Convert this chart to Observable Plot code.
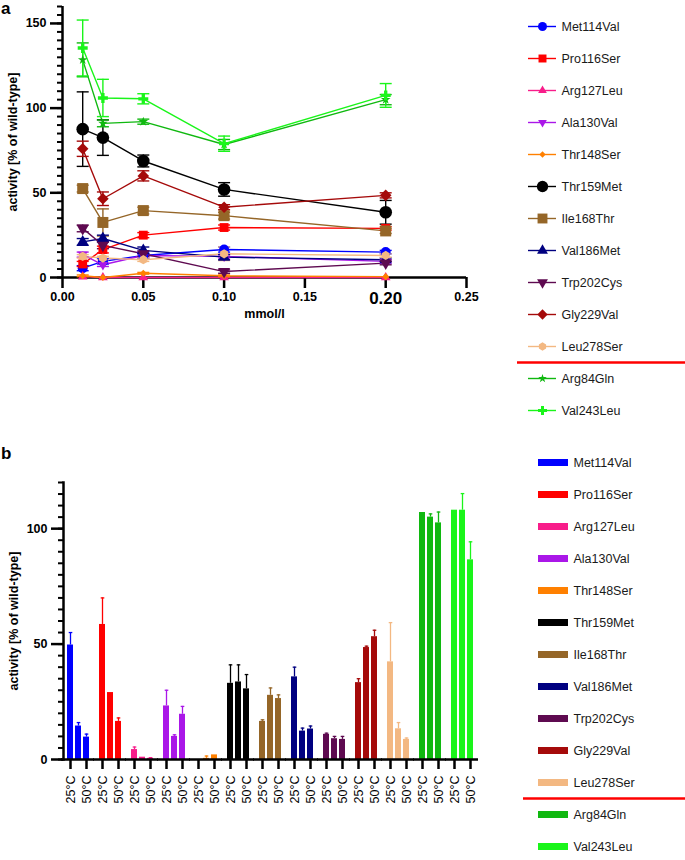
<!DOCTYPE html>
<html><head><meta charset="utf-8">
<script src="https://cdn.jsdelivr.net/npm/d3@7"></script>
<script src="https://cdn.jsdelivr.net/npm/@observablehq/plot@0.6"></script>
<style>
body{margin:0;background:#fff;font-family:"Liberation Sans",Arial,sans-serif;}
#root{position:relative;width:685px;height:860px;overflow:hidden;background:#fff;}
.abs{position:absolute;}
.letter{font-weight:bold;font-size:17px;line-height:17px;color:#000;}
</style></head><body><div id="root"></div>
<script>
const mutants = ["Met114Val","Pro116Ser","Arg127Leu","Ala130Val","Thr148Ser","Thr159Met","Ile168Thr","Val186Met","Trp202Cys","Gly229Val","Leu278Ser","Arg84Gln","Val243Leu"];
const colors = ["#0000ff","#ff0000","#f81d8a","#aa17e8","#ff8000","#000000","#956628","#000080","#5e0a50","#a50a0a","#f3b882","#10b810","#1af51a"];
const symbolsA = ["circle","square","triangle","triangle","diamond2","circle","square","triangle","triangle","diamond2","hexagon","star","cross"];
const rotationsA = [0,0,0,180,0,0,0,0,180,0,0,0,0];
const sizesA = [5,5,3.6,3.6,3.2,6.3,6.2,4.5,4.5,5.2,4,3,4.2];

const concentrations = [0.0125,0.025,0.05,0.1,0.2];
const activityA = [
  [5.5, 9.5, 13, 16.5, 15],
  [8, 16.5, 25, 29.5, 29],
  [0.5, 0, 0, 0, 0],
  [13.5, 7.5, 13, 12.5, 9.5],
  [1, 0, 2.5, 1, 0.5],
  [87.6, 82.6, 68.8, 52, 38.5],
  [52.5, 32.5, 39.5, 36.5, 27.5],
  [21, 23, 16, 12, 10.5],
  [29, 19, 14, 3.5, 8.5],
  [76, 46.5, 60, 41.5, 48.5],
  [12.5, 11.5, 10.5, 14, 13],
  [128.5, 91, 92, 78.5, 105],
  [135.5, 106, 105.5, 79, 107.5]
];
const errorA = [
  [1.5, 1.5, 1.5, 1.5, 1],
  [1.5, 2, 1.5, 1.5, 1],
  [0, 0, 0, 0, 0],
  [1.5, 1, 1, 1, 1],
  [0.5, 0, 0.5, 0.5, 0],
  [22, 10.5, 3.5, 4, 7],
  [2, 8, 2, 2, 1.5],
  [2, 2, 2, 1.5, 1],
  [2, 2, 1.5, 1, 1],
  [4.5, 4, 3, 1.5, 1.5],
  [1, 1, 1, 4, 1],
  [10, 2, 1.5, 3, 3],
  [16.5, 11, 3, 4.5, 7]
];
const xTicksA = [0, 0.05, 0.1, 0.15, 0.25];
const xTickBigA = [0.2];
const yTicksA = [0, 50, 100, 150];

const temperatures = ["25°C","37°C","50°C"];
const temperatureTicks = ["25°C","50°C"];
const activityB = [
  [49.6, 14.5, 9.7],
  [58.5, 29, 16.5],
  [4.3, 1, 0.5],
  [23.2, 10, 19.6],
  [0, 0.5, 2],
  [33, 33.6, 30.6],
  [16.5, 27.8, 26.4],
  [35.8, 12.3, 13.2],
  [10.9, 9, 8.7],
  [33.3, 48.5, 53.2],
  [42.3, 13.3, 8.7],
  [107, 105, 102.5],
  [108, 108, 86.5]
];
const errorB = [
  [5.4, 1.5, 1.3],
  [11.5, 0, 1.5],
  [1.1, 0, 0.3],
  [6.8, 0.7, 3.4],
  [0, 1, 0],
  [8, 7.4, 6.2],
  [0.7, 3.2, 1.6],
  [4.2, 1.3, 1.3],
  [0.5, 1, 1.3],
  [1.7, 0.6, 2.8],
  [17, 2.7, 0.6],
  [0, 1.4, 4.7],
  [0, 7.2, 7.8]
];
const yTicksB = [0, 50, 100];
const yLabel = "activity [% of wild-type]";
const xLabelA = "mmol/l";
const separatorAfter = "Leu278Ser";

const FONT = '"Liberation Sans", Arial, Helvetica, sans-serif';
const root = document.getElementById("root");
function place(el, left, top) {
  const w = document.createElement("div");
  w.className = "abs"; w.style.left = left + "px"; w.style.top = top + "px";
  w.appendChild(el); root.appendChild(w); return w;
}
const capSymbol = {draw(ctx, size) { const w = Math.sqrt(size / Math.PI); ctx.moveTo(-w, 0); ctx.lineTo(w, 0); }};

// ---------- Panel a ----------
const rowsA = mutants.flatMap((m, i) => concentrations.map((c, j) => ({mutant: m, i, conc: c, value: activityA[i][j], err: errorA[i][j]})));
const marksA = [
  Plot.axisY({ticks: d3.range(0, 161, 5), tickSize: 5, tickFormat: () => "", strokeWidth: 2, label: null}),
  Plot.axisY({ticks: yTicksA, tickSize: 12, strokeWidth: 2.5, tickPadding: 4, fontWeight: "bold", fontSize: 12.5,
    label: yLabel, labelAnchor: "center", labelOffset: 54, labelArrow: "none"}),
  Plot.axisX({ticks: xTicksA, tickSize: 11, strokeWidth: 2.5, tickPadding: 4, tickFormat: ".2f", fontWeight: "bold", fontSize: 12.5,
    label: xLabelA, labelAnchor: "center", labelOffset: 40, labelArrow: "none"}),
  Plot.axisX({ticks: xTickBigA, tickSize: 11, strokeWidth: 2.5, tickPadding: 3, tickFormat: ".2f", fontWeight: "bold", fontSize: 17, label: null}),
  Plot.ruleX([0], {y1: 0, y2: 160, strokeWidth: 2.5}),
  Plot.ruleY([0], {x1: 0, x2: 0.25, strokeWidth: 2.5})
];
mutants.forEach((m, i) => {
  const rows = rowsA.filter(d => d.i === i);
  marksA.push(Plot.line(rows, {x: "conc", y: "value", stroke: colors[i], strokeWidth: 1.4}));
});
mutants.forEach((m, i) => {
  const rows = rowsA.filter(d => d.i === i && d.err > 0);
  marksA.push(Plot.ruleX(rows, {x: "conc", y1: d => d.value - d.err, y2: d => d.value + d.err, stroke: colors[i], strokeWidth: 1.4}));
  marksA.push(Plot.dot(rows, {x: "conc", y: d => d.value + d.err, symbol: capSymbol, r: 6, fill: "none", stroke: colors[i], strokeWidth: 1.4}));
  marksA.push(Plot.dot(rows, {x: "conc", y: d => d.value - d.err, symbol: capSymbol, r: 6, fill: "none", stroke: colors[i], strokeWidth: 1.4}));
});
mutants.forEach((m, i) => {
  const rows = rowsA.filter(d => d.i === i);
  marksA.push(Plot.dot(rows, {x: "conc", y: "value", symbol: symbolsA[i], r: sizesA[i], fill: colors[i], stroke: "none", rotate: rotationsA[i]}));
});
const plotA = Plot.plot({
  width: 480, height: 322, marginTop: 6, marginBottom: 45, marginLeft: 62, marginRight: 14,
  style: {fontFamily: FONT, fontSize: "12.5px", color: "#000", background: "transparent", overflow: "visible"},
  x: {domain: [0, 0.25], axis: null},
  y: {domain: [0, 160], axis: null},
  marks: marksA
});
place(plotA, 0, 0);

// ---------- Legend a ----------
const legendA = Plot.plot({
  width: 205, height: 430, marginLeft: 37, marginRight: 0, marginTop: 0, marginBottom: 0,
  style: {fontFamily: FONT, fontSize: "12.5px", color: "#1a1a1a", background: "transparent", overflow: "visible"},
  x: {domain: [0, 1], range: [48, 76], axis: null},
  y: {type: "point", domain: mutants, range: [23.5, 412.9], padding: 0, axis: null},
  marks: [
    Plot.ruleY([separatorAfter], {dy: 16, stroke: "#ff0000", strokeWidth: 2.5}),
    ...mutants.map((m, i) => Plot.ruleY([m], {y: d => d, x1: 0, x2: 1, stroke: colors[i], strokeWidth: 1.4})),
    ...mutants.map((m, i) => Plot.dot([m], {x: 0.5, y: d => d, symbol: symbolsA[i], r: sizesA[i] * 0.9, fill: colors[i], stroke: "none", rotate: rotationsA[i]})),
    Plot.text(mutants, {x: 1, y: d => d, dx: 5, textAnchor: "start", fontSize: 12.5, fill: "#1a1a1a"})
  ]
});
place(legendA, 480, 0);

// ---------- Panel b ----------
const rowsB = mutants.flatMap((m, i) => temperatures.map((t, j) => ({mutant: m, temp: t, value: activityB[i][j], err: errorB[i][j]})));
const errRowsB = rowsB.filter(d => d.err > 0);
const plotB = Plot.plot({
  width: 480, height: 339, marginTop: 12, marginBottom: 50, marginLeft: 62, marginRight: 4,
  style: {fontFamily: FONT, fontSize: "12.5px", color: "#000", background: "transparent", overflow: "visible"},
  fx: {domain: mutants, paddingInner: 0.1, paddingOuter: 0, axis: null, label: null},
  x: {domain: temperatures, padding: 0.25, axis: null},
  y: {domain: [0, 120], axis: null},
  color: {domain: mutants, range: colors},
  marks: [
    Plot.barY(rowsB, {fx: "mutant", x: "temp", y: "value", fill: "mutant"}),
    Plot.ruleX(errRowsB, {fx: "mutant", x: "temp", y1: "value", y2: d => d.value + d.err, stroke: "mutant", strokeWidth: 1.3}),
    Plot.dot(errRowsB, {fx: "mutant", x: "temp", y: d => d.value + d.err, symbol: capSymbol, r: 1.8, fill: "none", stroke: "mutant", strokeWidth: 1.3}),
    Plot.axisX({ticks: temperatureTicks, tickSize: 10, strokeWidth: 2.5, tickRotate: -90, tickPadding: 6, fontSize: 12.5, label: null}),
    Plot.axisY({ticks: d3.range(0, 121, 5), tickSize: 5, tickFormat: () => "", strokeWidth: 2, label: null}),
    Plot.axisY({ticks: yTicksB, tickSize: 12, strokeWidth: 2.5, tickPadding: 4, fontWeight: "bold", fontSize: 12.5,
      label: yLabel, labelAnchor: "center", labelOffset: 54, labelArrow: "none"}),
    Plot.frame({anchor: "left", facetAnchor: "left", strokeWidth: 2.5}),
    Plot.ruleY([0], {insetLeft: -2, insetRight: -2, strokeWidth: 2.5})
  ]
});
place(plotB, 0, 470);

// ---------- Legend b ----------
const legendB = Plot.plot({
  width: 205, height: 420, marginLeft: 43, marginRight: 0, marginTop: 0, marginBottom: 0,
  style: {fontFamily: FONT, fontSize: "12.5px", color: "#1a1a1a", background: "transparent", overflow: "visible"},
  x: {domain: [0, 1], range: [58, 88], axis: null},
  y: {type: "point", domain: mutants, range: [17, 411], padding: 0, axis: null},
  marks: [
    Plot.ruleY([separatorAfter], {dy: 16, stroke: "#ff0000", strokeWidth: 2.5}),
    Plot.ruleY(mutants, {y: d => d, x1: 0, x2: 1, stroke: (d, i) => colors[i], strokeWidth: 7}),
    Plot.text(mutants, {x: 1, y: d => d, dx: 5, textAnchor: "start", fontSize: 12.5, fill: "#1a1a1a"})
  ]
});
place(legendB, 480, 440);

// ---------- Panel letters ----------
const la = document.createElement("div"); la.className = "letter"; la.textContent = "a"; place(la, 1, 0);
const lb = document.createElement("div"); lb.className = "letter"; lb.textContent = "b"; place(lb, 1, 445);
</script></body></html>
